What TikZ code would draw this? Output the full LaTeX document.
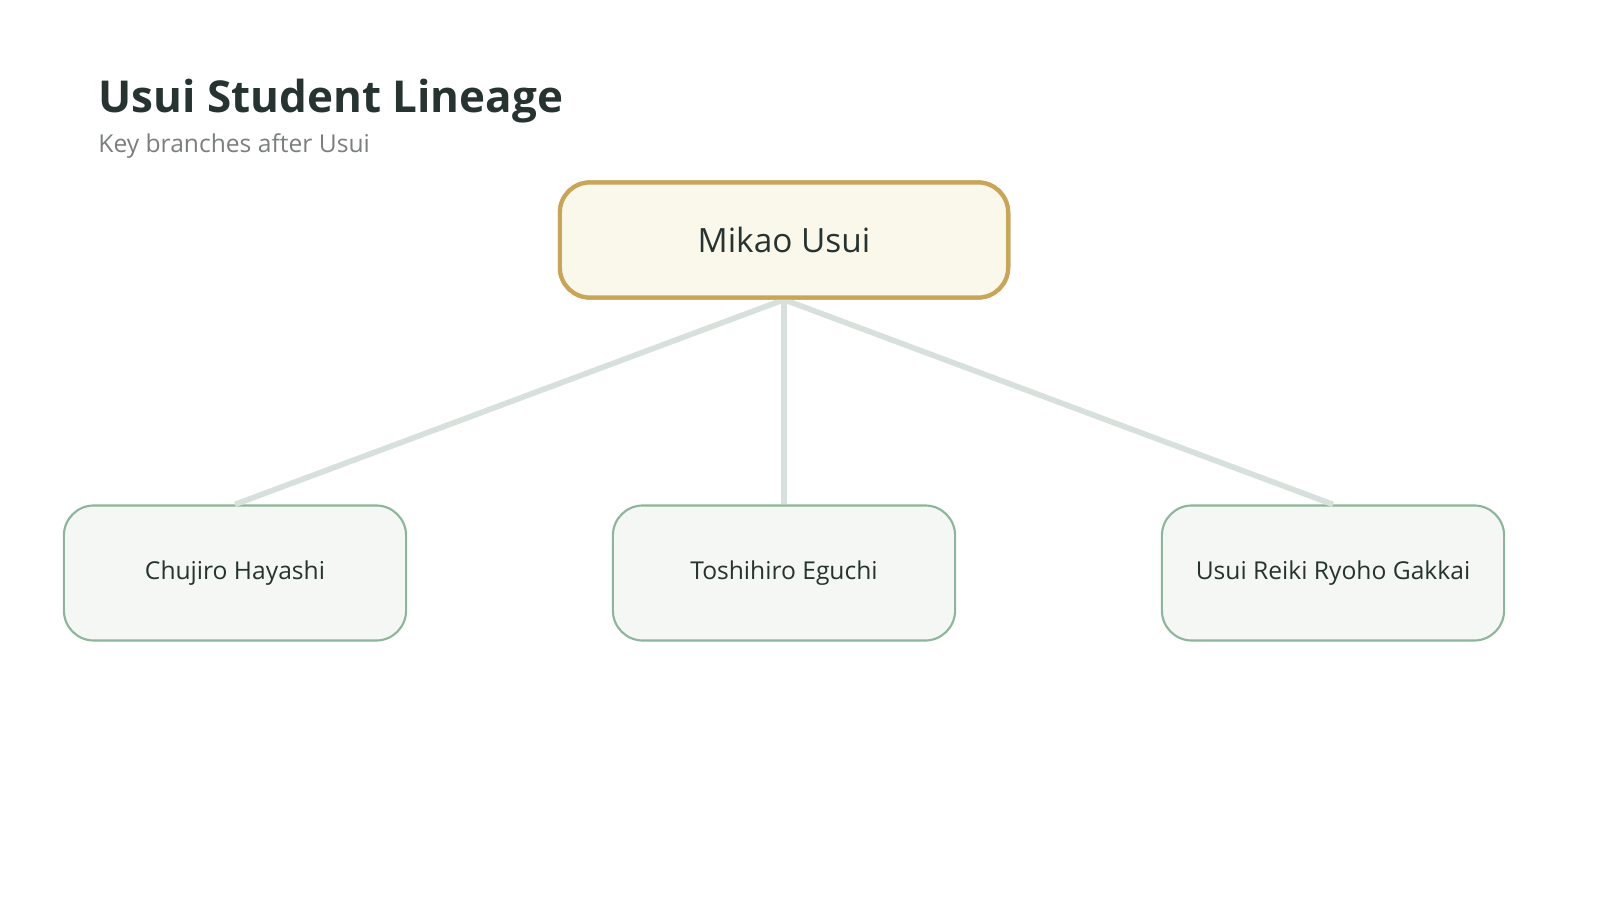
\documentclass[tikz,border=0pt]{standalone}
\usepackage{fontspec}
\setmainfont{Open Sans}
\usetikzlibrary{positioning}
\definecolor{ink}{HTML}{263330}
\definecolor{subgray}{HTML}{7A7F7D}
\definecolor{rootfill}{HTML}{FAF7EB}
\definecolor{rootline}{HTML}{C9A55A}
\definecolor{kidfill}{HTML}{F4F7F3}
\definecolor{kidline}{HTML}{8DB59B}
\definecolor{linkline}{HTML}{D8E0DC}
\tikzset{
  root/.style={draw=rootline, line width=1.2pt, fill=rootfill, rounded corners=0.3cm,
    minimum width=4.48cm, minimum height=1.15cm, text=ink, font=\fontsize{9.5}{11}\selectfont},
  kid/.style={draw=kidline, line width=0.6pt, fill=kidfill, rounded corners=0.3cm,
    minimum width=3.42cm, minimum height=1.35cm, text=ink, font=\fontsize{7}{9}\selectfont},
  link/.style={draw=linkline, line width=1.6pt}
}
\begin{document}
\begin{tikzpicture}[x=0.01cm,y=-0.01cm]
\useasboundingbox (0,0) rectangle (1600,900);

\node[anchor=west, text=ink, font=\fontsize{12.5}{14}\selectfont\bfseries] (title) at (86,101) {Usui Student Lineage};
\node[anchor=west, text=subgray, font=\fontsize{7}{9}\selectfont] (sub) at (86,146) {Key branches after Usui};

\node[root] (usui) at (784,240) {Mikao Usui};
\node[kid] (hayashi) at (235,573) {Chujiro Hayashi};
\node[kid] (eguchi) at (784,573) {Toshihiro Eguchi};
\node[kid] (gakkai) at (1333,573) {Usui Reiki Ryoho Gakkai};

\begin{scope}[on background layer/.try]
\foreach \k in {hayashi,eguchi,gakkai}
  \draw[link] (usui.south) -- (\k.north);
\end{scope}
\node[root] at (usui) {Mikao Usui};
\end{tikzpicture}
\end{document}
